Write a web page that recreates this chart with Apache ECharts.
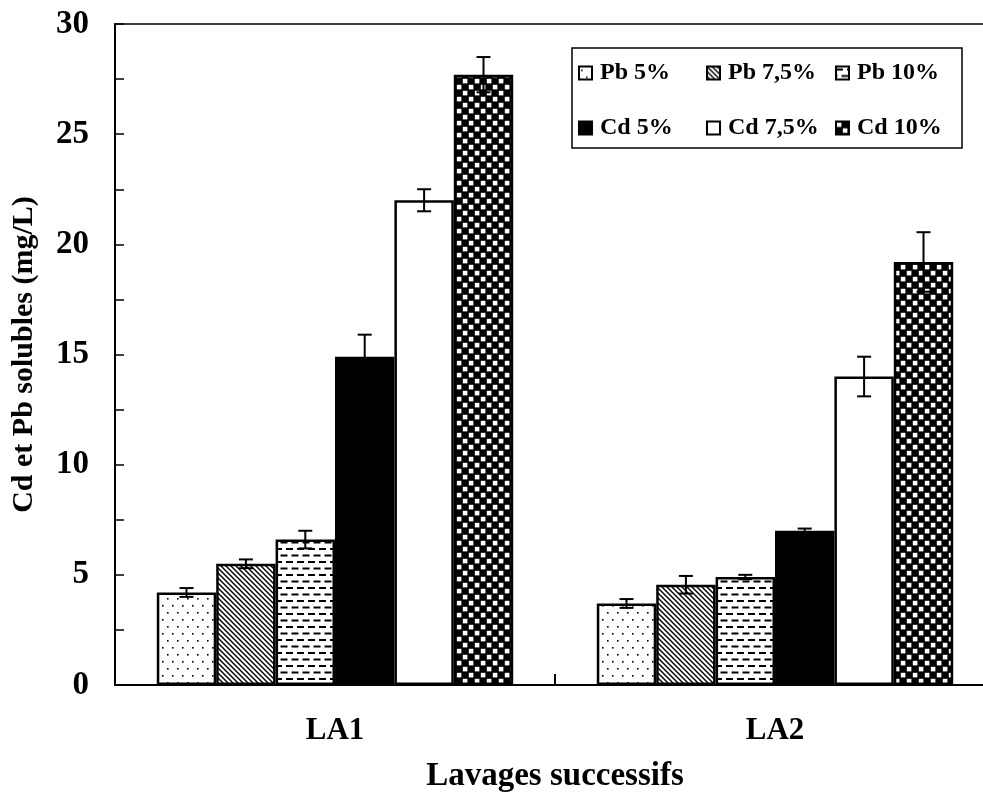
<!DOCTYPE html>
<html>
<head>
<meta charset="utf-8">
<script src="https://cdn.jsdelivr.net/npm/echarts@6/dist/echarts.min.js"></script>
<style>
  html, body { margin: 0; padding: 0; background: #fff; }
  #chart { width: 983px; height: 811px; }
</style>
</head>
<body>
<div id="chart"></div>
<script>
// Soluble Cd and Pb after successive washes
const categories = ['LA1', 'LA2'];
const seriesNames = ['Pb 5%', 'Pb 7,5%', 'Pb 10%', 'Cd 5%', 'Cd 7,5%', 'Cd 10%'];

const pb5 = [4.2, 3.7];
const pb75 = [5.5, 4.55];
const pb10 = [6.6, 4.9];
const cd5 = [14.9, 7.0];
const cd75 = [22.0, 14.0];
const cd10 = [27.7, 19.2];

const pb5Err = [0.2, 0.2];
const pb75Err = [0.2, 0.4];
const pb10Err = [0.4, 0.1];
const cd5Err = [1.0, 0.1];
const cd75Err = [0.5, 0.9];
const cd10Err = [0.8, 1.35];

const yTicks = [0, 5, 10, 15, 20, 25, 30];

const values = [pb5, pb75, pb10, cd5, cd75, cd10];
const errors = [pb5Err, pb75Err, pb10Err, cd5Err, cd75Err, cd10Err];

const FONT = '"Liberation Serif", "Times New Roman", serif';
const CAT_GAP = 0.19;

// Fill patterns
function tile(w, h, draw) {
  const c = document.createElement('canvas');
  c.width = w; c.height = h;
  const ctx = c.getContext('2d');
  ctx.fillStyle = '#fff';
  ctx.fillRect(0, 0, w, h);
  ctx.fillStyle = '#000';
  ctx.strokeStyle = '#000';
  draw(ctx, w, h);
  return { image: c, repeat: 'repeat' };
}

const dotFill = tile(10, 14, (ctx) => {
  ctx.fillRect(2, 3, 1.6, 1.6);
  ctx.fillRect(7, 10, 1.6, 1.6);
});

const hatchFill = tile(5, 5, (ctx, w, h) => {
  ctx.lineWidth = 1.4;
  for (let o = -w; o <= w; o += w) {
    ctx.beginPath();
    ctx.moveTo(o - 1, -1);
    ctx.lineTo(o + w + 1, h + 1);
    ctx.stroke();
  }
});

const dashFill = tile(11, 13, (ctx, w) => {
  ctx.fillRect(0, 2, 7, 2);
  ctx.fillRect(5.5, 8.5, 7, 2);
  ctx.fillRect(5.5 - w, 8.5, 7, 2);
});

const checkFill = tile(12, 12, (ctx, w, h) => {
  ctx.fillRect(0, 0, w, h);
  ctx.fillStyle = '#fff';
  ctx.fillRect(0.8, 0.8, 4.6, 4.6);
  ctx.fillRect(6.8, 6.8, 4.6, 4.6);
});

const fills = [dotFill, hatchFill, dashFill, '#000', '#fff', checkFill];

const barSeries = seriesNames.map((name, i) => ({
  name,
  type: 'bar',
  data: values[i],
  barGap: '0%',
  barCategoryGap: (CAT_GAP * 100) + '%',
  itemStyle: { color: fills[i], borderColor: '#000', borderWidth: 2.5 },
  emphasis: { disabled: true },
  silent: true,
  z: 2
}));

// Error bars: [category index, mean, deviation, series index]
const errData = [];
values.forEach((vals, k) => {
  vals.forEach((v, ci) => errData.push([ci, v, errors[k][ci], k]));
});

const errorSeries = {
  type: 'custom',
  data: errData,
  encode: { x: 0, y: 1 },
  silent: true,
  z: 5,
  renderItem(params, api) {
    const cat = api.value(0), mean = api.value(1), err = api.value(2), k = api.value(3);
    const band = api.size([1, 0])[0];
    const group = band * (1 - CAT_GAP);
    const bw = group / seriesNames.length;
    const c = api.coord([cat, mean]);
    const x = c[0] - group / 2 + (k + 0.5) * bw;
    const yHi = api.coord([cat, mean + err])[1];
    const yLo = api.coord([cat, mean - err])[1];
    const cap = 7;
    const st = { stroke: '#000', lineWidth: 2 };
    return {
      type: 'group',
      children: [
        { type: 'line', shape: { x1: x, y1: yHi, x2: x, y2: yLo }, style: st },
        { type: 'line', shape: { x1: x - cap, y1: yHi, x2: x + cap, y2: yHi }, style: st },
        { type: 'line', shape: { x1: x - cap, y1: yLo, x2: x + cap, y2: yLo }, style: st }
      ]
    };
  }
};

function legendCol(names, left) {
  return {
    data: names,
    orient: 'vertical',
    left,
    top: 61,
    padding: 0,
    icon: 'rect',
    itemWidth: 13,
    itemHeight: 13,
    itemGap: 31,
    selectedMode: false,
    textStyle: { fontFamily: FONT, fontSize: 24, fontWeight: 'bold', color: '#000', lineHeight: 24, padding: [0, 0, 0, 3] }
  };
}

const chart = echarts.init(document.getElementById('chart'), null, { renderer: 'canvas' });
chart.setOption({
  backgroundColor: '#fff',
  animation: false,
  grid: {
    left: 115, top: 24, right: -12, bottom: 126,
    outerBoundsMode: 'none',
    containLabel: false,
    show: true, borderColor: '#000', borderWidth: 1.5, backgroundColor: 'transparent'
  },
  legend: [
    legendCol([seriesNames[0], seriesNames[3]], 578),
    legendCol([seriesNames[1], seriesNames[4]], 706),
    legendCol([seriesNames[2], seriesNames[5]], 835)
  ],
  graphic: [{
    type: 'rect',
    shape: { x: 572, y: 48, width: 390, height: 100 },
    style: { fill: 'none', stroke: '#000', lineWidth: 1.5 },
    z: 10
  }],
  xAxis: {
    type: 'category',
    data: categories,
    boundaryGap: true,
    axisLine: { lineStyle: { color: '#000', width: 2 } },
    axisTick: { show: true, interval: 0, alignWithLabel: false, inside: true, length: 11, lineStyle: { color: '#000', width: 2 } },
    axisLabel: { fontFamily: FONT, fontSize: 31, fontWeight: 'bold', color: '#000', margin: 30 },
    name: 'Lavages successifs',
    nameLocation: 'middle',
    nameGap: 75,
    nameTextStyle: { fontFamily: FONT, fontSize: 33, fontWeight: 'bold', color: '#000' }
  },
  yAxis: {
    type: 'value',
    min: 0,
    max: 30,
    interval: 2.5,
    splitLine: { show: false },
    axisLine: { show: true, lineStyle: { color: '#000', width: 2 } },
    axisTick: { show: true, inside: true, length: 9, lineStyle: { color: '#000', width: 1.5 } },
    axisLabel: {
      fontFamily: FONT, fontSize: 33, fontWeight: 'bold', color: '#000', margin: 26,
      formatter: (v) => (yTicks.indexOf(v) >= 0 ? String(v) : '')
    },
    name: 'Cd et Pb solubles (mg/L)',
    nameLocation: 'middle',
    nameRotate: 90,
    nameGap: 76,
    nameTextStyle: { fontFamily: FONT, fontSize: 30, fontWeight: 'bold', color: '#000' }
  },
  series: [...barSeries, errorSeries]
});
</script>
</body>
</html>
